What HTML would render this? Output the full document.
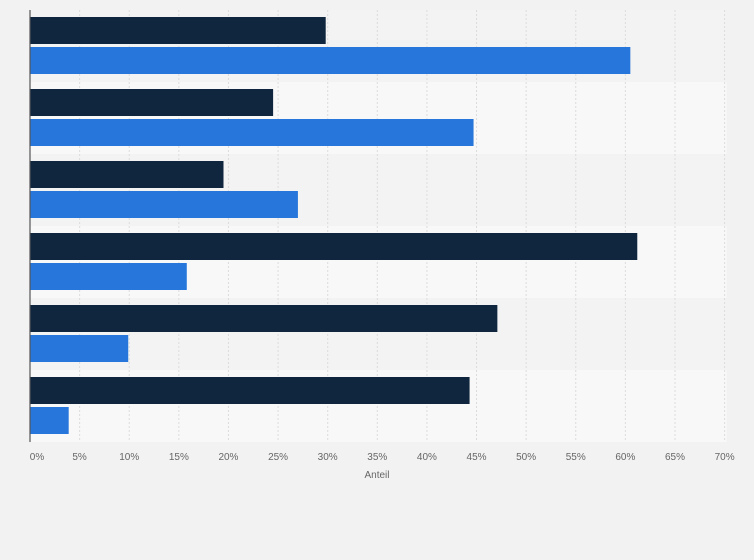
<!DOCTYPE html>
<html><head><meta charset="utf-8"><style>
body{margin:0;background:#f2f2f2;font-family:"Liberation Sans",sans-serif}
svg{display:block}
</style></head><body>
<svg width="754" height="560" id="chart">
<rect x="0" y="0" width="754" height="560" fill="#f2f2f2"/>
</svg>
<script>
const categories=["Kategorie 1","Kategorie 2","Kategorie 3","Kategorie 4","Kategorie 5","Kategorie 6"];
const seriesDark=[29.8,24.5,19.5,61.2,47.1,44.3];
const seriesBlue=[60.5,44.7,27.0,15.8,9.9,3.9];
const tickValues=[0,5,10,15,20,25,30,35,40,45,50,55,60,65,70];
const tickLabels=["0%","5%","10%","15%","20%","25%","30%","35%","40%","45%","50%","55%","60%","65%","70%"];
(function(){
const NS="http://www.w3.org/2000/svg";
const svg=document.getElementById('chart');
const x0=30,x1=724.6,plotTop=10,plotBottom=442,maxV=70;
const xs=v=>x0+(v/maxV)*(x1-x0);
const band=(plotBottom-plotTop)/categories.length;
function mk(t,a){const e=document.createElementNS(NS,t);for(const k in a)e.setAttribute(k,a[k]);svg.appendChild(e);return e;}
categories.forEach((c,i)=>{
 const r=mk('rect',{x:x0,y:plotTop+i*band,width:x1-x0+2,height:band,fill:i%2?'#f8f8f8':'#f3f3f3'});
 
 
});
tickValues.forEach((v,i)=>{
 if(v>0){const g=mk('line',{x1:xs(v),x2:xs(v),y1:plotTop,y2:plotBottom,stroke:'#dcdcdc','stroke-dasharray':'2,2'});
 
 }
 const t=mk('text',{x:v===0?37:xs(v),y:460,'font-size':10,fill:'#666','text-anchor':'middle'});
 t.textContent=tickLabels[i];
 
 
});
categories.forEach((c,i)=>{
 const y=plotTop+i*band;
 const d=mk('rect',{x:x0,y:y+7,width:xs(seriesDark[i])-x0,height:27,fill:'#10263e'});
 
 
 const b=mk('rect',{x:x0,y:y+37,width:xs(seriesBlue[i])-x0,height:27,fill:'#2776db'});
 
 
});
const ax=mk('line',{x1:x0,x2:x0,y1:plotTop,y2:plotBottom,stroke:'#555','stroke-width':1.2});


const at=mk('text',{x:377,y:478,'font-size':10,fill:'#666','text-anchor':'middle'});
at.textContent='Anteil';


})();
</script>
</body></html>
